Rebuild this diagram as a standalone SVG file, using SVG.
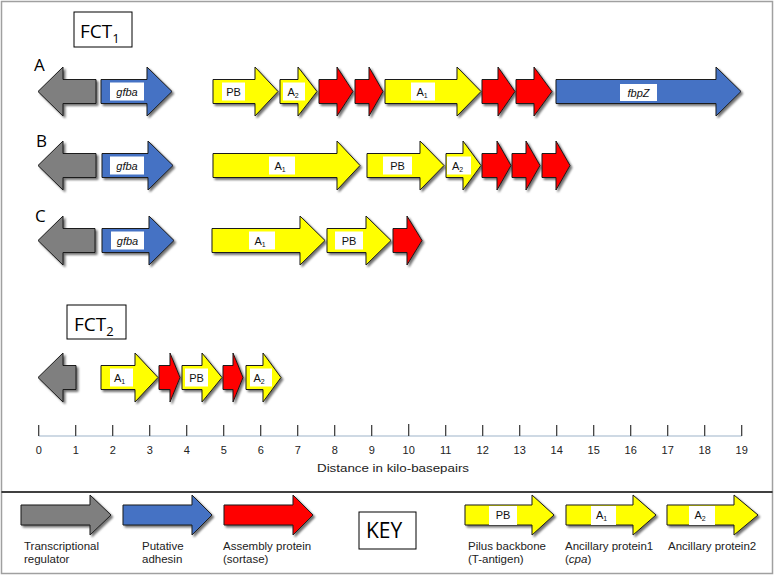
<svg xmlns="http://www.w3.org/2000/svg" width="778" height="575" viewBox="0 0 778 575">
<defs>
<filter id="sh" x="-10%" y="-10%" width="130%" height="140%">
<feDropShadow dx="2" dy="2" stdDeviation="0.8" flood-color="#000" flood-opacity="0.55"/>
</filter>
<style>
.ar{stroke:#1a1a1a;stroke-width:1;filter:url(#sh);stroke-linejoin:miter}
.g{fill:#7f7f7f}.b{fill:#4472c4}.r{fill:#ff0000}.y{fill:#ffff00}
.lb{fill:#fff}
.t{font-family:"Liberation Sans",Arial,sans-serif;font-size:11px;fill:#111;text-anchor:middle}
.it{font-style:italic}
.sub{font-size:7px}
.ttl{font-family:"Open Sans","Liberation Sans",sans-serif;fill:#000}
.box{fill:#fff;stroke:#000;stroke-width:1}
.ax{font-family:"Liberation Sans",Arial,sans-serif;font-size:11px;fill:#222;text-anchor:middle}
.tk{stroke:#333;stroke-width:1.2}
.kt{font-family:"Liberation Sans",Arial,sans-serif;font-size:11.5px;fill:#222}
</style>
</defs>
<rect x="1.5" y="1.5" width="771" height="572" fill="#fff" stroke="#a0a0a0" stroke-width="1.5"/>
<line x1="1.5" y1="492" x2="772.5" y2="492" stroke="#000" stroke-width="1.5"/>

<g id="fct1-title">
<rect class="box" x="74" y="12" width="58" height="35"/>
<text class="ttl" x="80" y="37.5" font-size="19">FCT<tspan font-size="13" dy="5">1</tspan></text>
</g>
<g id="labels">
<text class="ttl" x="34" y="71" font-size="17">A</text>
<text class="ttl" x="36" y="147" font-size="17">B</text>
<text class="ttl" x="35" y="222" font-size="17">C</text>
</g>

<g id="rowA">
<path class="ar g" d="M96 79.5H63V67L38 91.5L63 116V103.5H96Z"/>
<path class="ar b" d="M101 79.5H147V67L172 91.5L147 116V103.5H101Z"/>
<rect class="lb" x="110" y="82.5" width="34" height="18"/><text class="t it" x="127" y="95.5">gfba</text>
<path class="ar y" d="M213 79.5H255V67L278 91.5L255 116V103.5H213Z"/>
<rect class="lb" x="222" y="82.5" width="23" height="18"/><text class="t" x="233.5" y="95.5">PB</text>
<path class="ar y" d="M280 79.5H298V67L317 91.5L298 116V103.5H280Z"/>
<rect class="lb" x="283" y="82.5" width="22" height="18"/><text class="t" x="293" y="95.5">A<tspan class="sub" dy="2">2</tspan></text>
<path class="ar r" d="M319 79.5H337V67L353 91.5L337 116V103.5H319Z"/>
<path class="ar r" d="M355 79.5H369V67L383 91.5L369 116V103.5H355Z"/>
<path class="ar y" d="M385 79.5H457V67L481 91.5L457 116V103.5H385Z"/>
<rect class="lb" x="411" y="82.5" width="24" height="18"/><text class="t" x="422" y="95.5">A<tspan class="sub" dy="2">1</tspan></text>
<path class="ar r" d="M482 79.5H498V67L515 91.5L498 116V103.5H482Z"/>
<path class="ar r" d="M516 79.5H534V67L552 91.5L534 116V103.5H516Z"/>
<path class="ar b" d="M556 79.5H716V67L741 91.5L716 116V103.5H556Z"/>
<rect class="lb" x="620" y="84" width="37" height="17"/><text class="t it" x="638.5" y="96.5">fbpZ</text>
</g>

<g id="rowB">
<path class="ar g" d="M96 153.5H63V141L38 165.5L63 190V177.5H96Z"/>
<path class="ar b" d="M102 153.5H148V141L173 165.5L148 190V177.5H102Z"/>
<rect class="lb" x="110" y="156.5" width="34" height="18"/><text class="t it" x="127" y="169.5">gfba</text>
<path class="ar y" d="M213 153.5H337V141L360 165.5L337 190V177.5H213Z"/>
<rect class="lb" x="269" y="156.5" width="26" height="18"/><text class="t" x="280" y="169.5">A<tspan class="sub" dy="2">1</tspan></text>
<path class="ar y" d="M367 153.5H420V141L444 165.5L420 190V177.5H367Z"/>
<rect class="lb" x="383" y="156.5" width="29" height="18"/><text class="t" x="397.5" y="169.5">PB</text>
<path class="ar y" d="M446 153.5H463V141L481 165.5L463 190V177.5H446Z"/>
<rect class="lb" x="447" y="156.5" width="24" height="18"/><text class="t" x="457.5" y="169.5">A<tspan class="sub" dy="2">2</tspan></text>
<path class="ar r" d="M482 153.5H497V141L511 165.5L497 190V177.5H482Z"/>
<path class="ar r" d="M512 153.5H526V141L540 165.5L526 190V177.5H512Z"/>
<path class="ar r" d="M542 153.5H556V141L570 165.5L556 190V177.5H542Z"/>
</g>

<g id="rowC">
<path class="ar g" d="M95 228.5H63V216L38 240.5L63 265V252.5H95Z"/>
<path class="ar b" d="M102 228.5H149V216L174 240.5L149 265V252.5H102Z"/>
<rect class="lb" x="111" y="231.5" width="33" height="18"/><text class="t it" x="127.5" y="244.5">gfba</text>
<path class="ar y" d="M212 228.5H300V216L325 240.5L300 265V252.5H212Z"/>
<rect class="lb" x="249" y="231.5" width="26" height="18"/><text class="t" x="260" y="244.5">A<tspan class="sub" dy="2">1</tspan></text>
<path class="ar y" d="M327 228.5H366V216L391 240.5L366 265V252.5H327Z"/>
<rect class="lb" x="335" y="231.5" width="28" height="18"/><text class="t" x="349" y="244.5">PB</text>
<path class="ar r" d="M393 228.5H407V216L422 240.5L407 265V252.5H393Z"/>
</g>

<g id="fct2-title">
<rect class="box" x="67" y="305" width="59" height="34"/>
<text class="ttl" x="74" y="331" font-size="19">FCT<tspan font-size="13" dy="5">2</tspan></text>
</g>

<g id="fct2">
<path class="ar g" d="M76 365.5H63V353L38 377.5L63 402V389.5H76Z"/>
<path class="ar y" d="M101 365.5H135V353L158 377.5L135 402V389.5H101Z"/>
<rect class="lb" x="110" y="368.5" width="23" height="18"/><text class="t" x="119.5" y="381.5">A<tspan class="sub" dy="2">1</tspan></text>
<path class="ar r" d="M159 365.5H170V353L180 377.5L170 402V389.5H159Z"/>
<path class="ar y" d="M182 365.5H202V353L222 377.5L202 402V389.5H182Z"/>
<rect class="lb" x="185" y="368.5" width="23" height="18"/><text class="t" x="196.5" y="381.5">PB</text>
<path class="ar r" d="M223 365.5H233V353L243 377.5L233 402V389.5H223Z"/>
<path class="ar y" d="M246 365.5H263V353L281 377.5L263 402V389.5H246Z"/>
<rect class="lb" x="250" y="368.5" width="22" height="18"/><text class="t" x="259" y="381.5">A<tspan class="sub" dy="2">2</tspan></text>
</g>

<g id="axis">
<line x1="38.7" y1="436" x2="741.7" y2="436" stroke="#9eb3c9" stroke-width="1.2"/>
<g class="tk">
<line x1="38.7" y1="425" x2="38.7" y2="436"/><line x1="75.7" y1="425" x2="75.7" y2="436"/><line x1="112.7" y1="425" x2="112.7" y2="436"/><line x1="149.7" y1="425" x2="149.7" y2="436"/><line x1="186.7" y1="425" x2="186.7" y2="436"/><line x1="223.7" y1="425" x2="223.7" y2="436"/><line x1="260.7" y1="425" x2="260.7" y2="436"/><line x1="297.7" y1="425" x2="297.7" y2="436"/><line x1="334.7" y1="425" x2="334.7" y2="436"/><line x1="371.7" y1="425" x2="371.7" y2="436"/><line x1="408.7" y1="424" x2="408.7" y2="436"/><line x1="445.7" y1="425" x2="445.7" y2="436"/><line x1="482.7" y1="425" x2="482.7" y2="436"/><line x1="519.7" y1="425" x2="519.7" y2="436"/><line x1="556.7" y1="425" x2="556.7" y2="436"/><line x1="593.7" y1="425" x2="593.7" y2="436"/><line x1="630.7" y1="425" x2="630.7" y2="436"/><line x1="667.7" y1="425" x2="667.7" y2="436"/><line x1="704.7" y1="425" x2="704.7" y2="436"/><line x1="741.7" y1="425" x2="741.7" y2="436"/>
</g>
<text class="ax" x="38.7" y="454">0</text><text class="ax" x="75.7" y="454">1</text><text class="ax" x="112.7" y="454">2</text><text class="ax" x="149.7" y="454">3</text><text class="ax" x="186.7" y="454">4</text><text class="ax" x="223.7" y="454">5</text><text class="ax" x="260.7" y="454">6</text><text class="ax" x="297.7" y="454">7</text><text class="ax" x="334.7" y="454">8</text><text class="ax" x="371.7" y="454">9</text><text class="ax" x="408.7" y="454">10</text><text class="ax" x="445.7" y="454">11</text><text class="ax" x="482.7" y="454">12</text><text class="ax" x="519.7" y="454">13</text><text class="ax" x="556.7" y="454">14</text><text class="ax" x="593.7" y="454">15</text><text class="ax" x="630.7" y="454">16</text><text class="ax" x="667.7" y="454">17</text><text class="ax" x="704.7" y="454">18</text><text class="ax" x="741.7" y="454">19</text>
<text class="ax" x="393" y="472" font-size="12" textLength="152" lengthAdjust="spacingAndGlyphs">Distance in kilo-basepairs</text>
</g>

<g id="key">
<path class="ar g" d="M21 505H90V495L111 515L90 535V525H21Z"/>
<text class="kt" x="24" y="550">Transcriptional</text><text class="kt" x="24" y="563">regulator</text>
<path class="ar b" d="M123 505H192V495L212 515L192 535V525H123Z"/>
<text class="kt" x="142" y="550">Putative</text><text class="kt" x="142" y="563">adhesin</text>
<path class="ar r" d="M224 505H293V495L313 515L293 535V525H224Z"/>
<text class="kt" x="223" y="550">Assembly protein</text><text class="kt" x="223" y="563">(sortase)</text>
<rect class="box" x="359" y="512" width="57" height="37"/>
<text class="ttl" x="366" y="538" font-size="21">KEY</text>
<path class="ar y" d="M465 505H532V495L554 515L532 535V525H465Z"/>
<rect class="lb" x="489" y="506" width="28" height="19"/><text class="t" x="503" y="519">PB</text>
<text class="kt" x="468" y="550">Pilus backbone</text><text class="kt" x="468" y="563">(T-antigen)</text>
<path class="ar y" d="M566 505H633V495L656 515L633 535V525H566Z"/>
<rect class="lb" x="591" y="506" width="25" height="19"/><text class="t" x="601.5" y="519">A<tspan class="sub" dy="2">1</tspan></text>
<text class="kt" x="565" y="550">Ancillary protein1</text><text class="kt" x="565" y="563">(<tspan font-style="italic">cpa</tspan>)</text>
<path class="ar y" d="M667 505H734V495L758 515L734 535V525H667Z"/>
<rect class="lb" x="689" y="506" width="26" height="19"/><text class="t" x="700" y="519">A<tspan class="sub" dy="2">2</tspan></text>
<text class="kt" x="668" y="550">Ancillary protein2</text>
</g>
</svg>
